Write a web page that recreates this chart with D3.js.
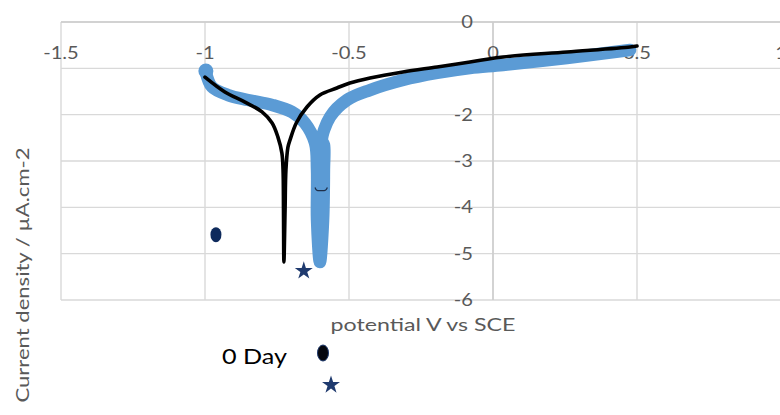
<!DOCTYPE html>
<html><head><meta charset="utf-8">
<script src="https://cdn.jsdelivr.net/npm/d3@7"></script>
<style>body{margin:0;background:#fff}svg{display:block}</style>
</head><body>
<script>
// ---- data ----
const xTicks = [-1.5, -1, -0.5, 0, 0.5, 1];
const yTicks = [0, -1, -2, -3, -4, -5, -6];
const xTickLabels = ["-1.5", "-1", "-0.5", "0", "0.5", "1"];
const yTickLabels = ["0", "-1", "-2", "-3", "-4", "-5", "-6"];

// 0 Day curve (black line)
const blackX = [-1.0, -0.931, -0.861, -0.802, -0.767, -0.747, -0.733, -0.729, -0.7274, -0.726,
  -0.722, -0.719, -0.712, -0.705, -0.683, -0.646, -0.601, -0.542, -0.497, -0.427, -0.3125, -0.194, -0.08, 0.035, 0.257, 0.476, 0.5];
const blackY = [-1.19, -1.51, -1.73, -1.94, -2.18, -2.48, -2.83, -3.19, -4.06, -5.18,
  -4.06, -3.19, -2.7, -2.55, -2.18, -1.835, -1.576, -1.425, -1.317, -1.209, -1.079, -0.971, -0.863, -0.755, -0.647, -0.54, -0.518];

// second curve (blue thick markers)
const blueX = [-0.997, -0.976, -0.92, -0.851, -0.767, -0.698, -0.653, -0.618, -0.611, -0.611, -0.601,
  -0.59, -0.587, -0.587, -0.594, -0.566, -0.507, -0.427, -0.3125, -0.194, -0.08, 0.035, 0.257, 0.476];
const blueY = [-1.08, -1.40, -1.576, -1.683, -1.79, -1.943, -2.18, -2.61, -3.19, -4.27, -5.18,
  -4.27, -3.19, -2.65, -2.55, -2.05, -1.683, -1.468, -1.252, -1.10, -0.993, -0.928, -0.777, -0.604];

// small dark mark on the blue spike
const markX = [-0.618, -0.612, -0.598, -0.582, -0.575];
const markY = [-3.57, -3.63, -3.64, -3.63, -3.57];

// single markers
const ellipsePoint = [-0.962, -4.59];
const starPoint = [-0.657, -5.37];
const legendLabel = "0 Day";
const xTitle = "potential V vs SCE";
const yTitle = "Current density / µA.cm-2";

// ---- drawing ----
const W = 780, H = 415;
const svg = d3.select("body").append("svg").attr("width", W).attr("height", H);
const x = d3.scaleLinear().domain([-1.5, 1]).range([61, 781]);
const y = d3.scaleLinear().domain([0, -6]).range([22, 300]);
const font = "Lato, 'Open Sans', sans-serif";
const grid = "#d9d9d9";
const labelGray = "#595959";
const sx = 1.22; // horizontal stretch of text as seen in the reference

// gridlines
svg.append("g").selectAll("line").data(xTicks).join("line")
  .attr("x1", d => x(d)).attr("x2", d => x(d)).attr("y1", y(0)).attr("y2", y(-6))
  .attr("stroke", grid).attr("stroke-width", 1.4);
svg.append("g").selectAll("line").data(yTicks).join("line")
  .attr("x1", x(-1.5)).attr("x2", x(1)).attr("y1", d => y(d)).attr("y2", d => y(d))
  .attr("stroke", grid).attr("stroke-width", 1.4);
svg.append("line").attr("x1", x(-1.5)).attr("x2", x(1)).attr("y1", y(0)).attr("y2", y(0))
  .attr("stroke", "#cccccc").attr("stroke-width", 1.4);
svg.append("line").attr("x1", x(0)).attr("x2", x(0)).attr("y1", y(0)).attr("y2", y(-6))
  .attr("stroke", "#cccccc").attr("stroke-width", 1.4);

// tick labels
svg.append("g").selectAll("text").data(xTicks).join("text")
  .attr("transform", d => `translate(${x(d)},${y(0) + 37}) scale(${sx},1)`)
  .attr("text-anchor", "middle").attr("font-family", font).attr("font-size", 16.5).attr("fill", labelGray)
  .text((d, i) => xTickLabels[i]);
svg.append("g").selectAll("text").data(yTicks).join("text")
  .attr("transform", d => `translate(${x(0) - 20},${y(d) + 6}) scale(${sx},1)`)
  .attr("text-anchor", "end").attr("font-family", font).attr("font-size", 16.5).attr("fill", labelGray)
  .text((d, i) => yTickLabels[i]);

// titles
svg.append("text").attr("x", 423).attr("y", 331).attr("text-anchor", "middle")
  .attr("font-family", font).attr("font-size", 18).attr("fill", labelGray)
  .attr("textLength", 185).attr("lengthAdjust", "spacingAndGlyphs").text(xTitle);
svg.append("text").attr("transform", "translate(29,275) rotate(-90)").attr("text-anchor", "middle")
  .attr("font-family", font).attr("font-size", 18).attr("fill", labelGray)
  .attr("textLength", 255).attr("lengthAdjust", "spacingAndGlyphs").text(yTitle);

// curves
const line = d3.line().x(d => x(d[0])).y(d => y(d[1])).curve(d3.curveCatmullRom.alpha(0.5));
const blueData = blueX.map((v, i) => [v, blueY[i]]);
const blackData = blackX.map((v, i) => [v, blackY[i]]);
svg.append("path").attr("d", line(blueData)).attr("fill", "none")
  .attr("stroke", "#5b9bd5").attr("stroke-width", 12.5).attr("stroke-linecap", "round").attr("stroke-linejoin", "round");
svg.append("circle").attr("cx", x(blueX[0])).attr("cy", y(blueY[0]) - 1).attr("r", 7.5).attr("fill", "#5b9bd5");
svg.append("path").attr("d", line(markX.map((v, i) => [v, markY[i]]))).attr("fill", "none")
  .attr("stroke", "#1f2f4a").attr("stroke-width", 1.3);
svg.append("path").attr("d", line(blackData)).attr("fill", "none")
  .attr("stroke", "#000").attr("stroke-width", 3.6).attr("stroke-linecap", "round").attr("stroke-linejoin", "round");

// point markers
const star = d3.symbol().type(d3.symbolStar).size(100);
svg.append("ellipse").attr("cx", x(ellipsePoint[0])).attr("cy", y(ellipsePoint[1])).attr("rx", 5.5).attr("ry", 7.5)
  .attr("fill", "#0e2a5c");
svg.append("path").attr("d", star()).attr("transform", `translate(${x(starPoint[0])},${y(starPoint[1])})`)
  .attr("fill", "#1f3a6e");

// legend
svg.append("text").attr("x", 222).attr("y", 364).attr("font-family", font).attr("font-size", 21)
  .attr("textLength", 65).attr("lengthAdjust", "spacingAndGlyphs")
  .attr("fill", "#000").text(legendLabel);
svg.append("ellipse").attr("cx", 323).attr("cy", 353).attr("rx", 5.5).attr("ry", 8)
  .attr("fill", "#05070f").attr("stroke", "#1f3a6e").attr("stroke-width", 1);
svg.append("path").attr("d", star()).attr("transform", "translate(331,385)").attr("fill", "#1f3a6e");
</script>
</body></html>
